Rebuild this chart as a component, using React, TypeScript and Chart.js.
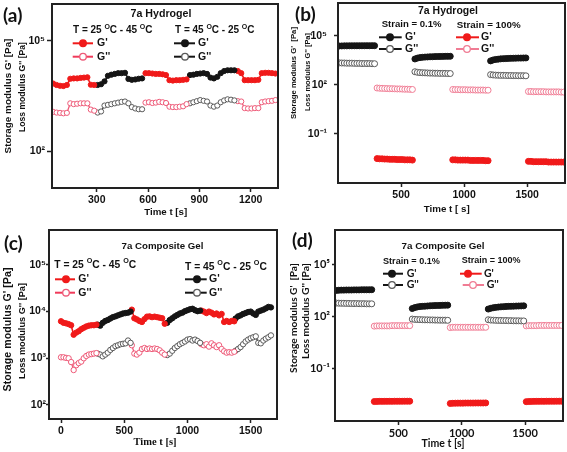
import { useEffect, useRef } from "react";
import { Chart, registerables } from "chart.js";

Chart.register(...registerables);

const FIG_W = 567;
const FIG_H = 452;

// ---------------- (a) 7a Hydrogel : temperature cycling ----------------
const aStep = 20;
const aStarts = [45, 305, 585, 845, 1125]; // red = 25→45 °C, black = 45→25 °C (alternating)
const aGp1 = [6900, 6300, 6000, 5900, 6300, 9300, 9500, 9500, 9800, 10000, 10200, 6400, 6300];
const aGp2 = [6300, 6600, 7900, 11200, 12000, 12600, 13200, 13200, 13500, 9200, 8700, 8900, 9300, 9500];
const aGp3 = [13200, 13200, 12900, 12600, 12600, 12300, 11700, 8500, 8300, 8500, 8500, 8700, 8900];
const aGp4 = [11700, 12000, 12600, 12900, 13200, 12600, 10000, 9500, 10500, 13200, 15100, 15800, 15800, 15800];
const aGp5 = [15100, 13200, 8500, 8500, 8500, 8500, 8700, 13200, 13500, 13500, 13200, 12900];
const aGpp1 = [1170, 1120, 1100, 1070, 1100, 2000, 1900, 1950, 2000, 2000, 2000, 1350, 1260];
const aGpp2 = [1120, 1200, 1740, 1820, 1900, 2000, 2090, 2190, 2240, 2000, 1580, 1450, 1380, 1380];
const aGpp3 = [2090, 2140, 2040, 2090, 2190, 2140, 2040, 1620, 1580, 1580, 1620, 1660, 1900];
const aGpp4 = [2000, 2140, 2290, 2450, 2340, 2240, 1740, 1620, 1740, 2140, 2400, 2570, 2510, 2400];
const aGpp5 = [2290, 2240, 1480, 1450, 1450, 1480, 1480, 2140, 2240, 2290, 2340, 2450];
const aXTicks = [300, 600, 900, 1200];
const aYTicks = [1e2, 1e5];

// ---------------- (b) 7a Hydrogel : strain cycling ----------------
const sStep = 20;
const bStarts = [10, 310, 610, 910, 1210, 1510]; // black = 0.1 %, red = 100 % (alternating)
const bGpLow1 = [23500, 23800, 24000, 24000, 24200, 24200, 24300, 24300, 24400, 24400, 24500, 24500, 24500, 24600, 24600];
const bGppLow1 = [2200, 2150, 2150, 2100, 2100, 2100, 2050, 2050, 2050, 2000, 2000, 2000, 2000, 1950, 1950];
const bGpLow2 = [3800, 4300, 4600, 4800, 4950, 5050, 5150, 5200, 5300, 5350, 5400, 5450, 5500, 5500, 5550];
const bGppLow2 = [630, 580, 560, 550, 540, 530, 520, 520, 510, 510, 500, 500, 500, 490, 490];
const bGpLow3 = [2900, 3300, 3550, 3700, 3850, 3950, 4000, 4100, 4150, 4200, 4250, 4300, 4300, 4350, 4400];
const bGppLow3 = [420, 400, 390, 385, 380, 380, 375, 370, 370, 365, 365, 360, 360, 360, 355];
const bGpHigh1 = [0.0031, 0.003, 0.003, 0.0029, 0.0029, 0.0028, 0.0028, 0.0028, 0.0027, 0.0027, 0.0027, 0.0026, 0.0026, 0.0026, 0.0025];
const bGppHigh1 = [64, 62, 61, 60, 59, 58, 58, 57, 56, 56, 55, 54, 54, 53, 52];
const bGpHigh2 = [0.0026, 0.0026, 0.0025, 0.0025, 0.0025, 0.0025, 0.0025, 0.0024, 0.0024, 0.0024, 0.0024, 0.0024, 0.0024, 0.0023, 0.0023];
const bGppHigh2 = [52, 51, 51, 50, 50, 50, 49, 49, 49, 48, 48, 48, 48, 47, 47];
const bGpHigh3 = [0.0021, 0.0021, 0.002, 0.002, 0.002, 0.002, 0.002, 0.002, 0.0019, 0.0019, 0.0019, 0.0019, 0.0019, 0.0019, 0.0019];
const bGppHigh3 = [39, 39, 38, 38, 38, 38, 38, 37, 37, 37, 37, 37, 37, 36, 36];
const sXTicks = [500, 1000, 1500];
const sYTicks = [1e-1, 1e2, 1e5];

// ---------------- (c) 7a Composite Gel : temperature cycling ----------------
const cStep = 20;
const cStarts = [0, 290, 560, 840, 1110, 1380];
const cGp1 = [6200, 5750, 5600, 5400, 5100, 3200, 3550, 3800, 4200, 4500, 4800, 5000, 5100, 5100, 5250];
const cGp2 = [5250, 5000, 5750, 6300, 6600, 7100, 7600, 7900, 8300, 8700, 9100, 9300, 9500, 10000];
const cGp3 = [11000, 7200, 6800, 6300, 6000, 6900, 7800, 7900, 7600, 7800, 7600, 7400, 7200, 5500];
const cGp4 = [5750, 6600, 7200, 7900, 8500, 9100, 9500, 10200, 10700, 11200, 11500, 10700, 10200, 10500];
const cGp5 = [10500, 10000, 9300, 10000, 9500, 8700, 9100, 8300, 8900, 6000, 6300, 6000, 6300, 6200];
const cGp6 = [7100, 7900, 8300, 8900, 9300, 9800, 10000, 9100, 8500, 10000, 10500, 11000, 11700, 12600, 12300];
const cGpp1 = [1050, 1050, 1020, 1000, 830, 560, 710, 790, 850, 1000, 1120, 1200, 1230, 1260, 1290];
const cGpp2 = [1260, 1200, 1100, 1200, 1320, 1510, 1660, 1820, 1900, 2000, 2040, 2090, 2400, 2140];
const cGpp3 = [1900, 1260, 1200, 1320, 1580, 1660, 1580, 1620, 1580, 1620, 1580, 1480, 1320, 1200];
const cGpp4 = [1170, 1260, 1450, 1660, 1820, 2000, 2140, 2290, 2510, 2570, 2400, 2510, 2340, 2140];
const cGpp5 = [2000, 1900, 2000, 1780, 2090, 1900, 1740, 1900, 1580, 1410, 1320, 1350, 1320, 1380];
const cGpp6 = [1450, 1580, 1740, 2000, 2290, 2510, 2690, 2820, 2950, 2140, 2090, 2400, 2630, 2820, 3090];
const cXTicks = [0, 500, 1000, 1500];
const cYTicks = [1e2, 1e3, 1e4, 1e5];

// ---------------- (d) 7a Composite Gel : strain cycling ----------------
const dStarts = [10, 310, 610, 910, 1210, 1510];
const dGpLow1 = [3300, 3400, 3450, 3450, 3500, 3500, 3500, 3550, 3550, 3550, 3600, 3600, 3600, 3600, 3650];
const dGppLow1 = [620, 610, 600, 600, 590, 590, 580, 580, 580, 570, 570, 570, 560, 560, 560];
const dGpLow2 = [300, 340, 370, 390, 400, 410, 420, 430, 440, 445, 450, 455, 460, 465, 470];
const dGppLow2 = [74, 71, 70, 69, 68, 67, 67, 66, 66, 65, 65, 64, 64, 64, 63];
const dGpLow3 = [280, 310, 335, 350, 365, 375, 385, 395, 400, 405, 410, 415, 420, 425, 430];
const dGppLow3 = [68, 65, 64, 63, 62, 62, 61, 61, 60, 60, 59, 59, 59, 58, 58];
const dGpHigh1 = [0.00132, 0.00134, 0.00135, 0.00135, 0.00135, 0.00136, 0.00136, 0.00136, 0.00137, 0.00137, 0.00137, 0.00137, 0.00138, 0.00138, 0.00138];
const dGppHigh1 = [29, 30, 30, 30, 30, 30, 30, 31, 31, 31, 31, 31, 31, 31, 31];
const dGpHigh2 = [0.00102, 0.00105, 0.00106, 0.00107, 0.00107, 0.00107, 0.00108, 0.00108, 0.00108, 0.00108, 0.00109, 0.00109, 0.00109, 0.00109, 0.0011];
const dGppHigh2 = [24, 25, 25, 25, 25, 25, 25, 25, 25, 25, 25, 25, 25, 25, 25];
const dGpHigh3 = [0.0013, 0.00133, 0.00134, 0.00135, 0.00135, 0.00136, 0.00136, 0.00136, 0.00137, 0.00137, 0.00137, 0.00137, 0.00138, 0.00138, 0.00138];
const dGppHigh3 = [30, 31, 31, 31, 31, 32, 32, 32, 32, 32, 32, 32, 32, 32, 32];

// ---------------- styling ----------------
const RED = "#f01a1a";
const PINK = "#ee5a78";
const PINK2 = "#f07c94";
const BLACK = "#151515";
const GRAY = "#5a5a5a";
const SANS = "'Liberation Sans', Arial, sans-serif";
const SERIF = "'Liberation Serif', 'Times New Roman', serif";
const CAL = "Lato, 'Liberation Sans', sans-serif";

const pts = (t0: number, step: number, vals: number[]) => vals.map((v, i) => ({ x: t0 + i * step, y: v }));

function filledDs(data: any[], color: string, r: number) {
  return {
    data, showLine: true, borderColor: color, borderWidth: 1.6,
    pointRadius: r, pointBackgroundColor: color, pointBorderColor: color, pointBorderWidth: 1,
  };
}
function openDs(data: any[], line: string, mark: string, r: number) {
  return {
    data, showLine: true, borderColor: line, borderWidth: 1.3,
    pointRadius: r, pointBackgroundColor: "#ffffff", pointBorderColor: mark, pointBorderWidth: 1,
  };
}

const SUP: Record<string, string> = { "-": "⁻", "0": "⁰", "1": "¹", "2": "²", "3": "³", "4": "⁴", "5": "⁵", "6": "⁶", "7": "⁷" };
const powLabel = (v: number) => "10" + String(Math.round(Math.log10(v))).split("").map((c) => SUP[c]).join("");

// ---------------- text helpers ----------------
type TOpt = { size: number; family: string; align?: CanvasTextAlign; rot?: number; w?: number };
function T(ctx: CanvasRenderingContext2D, s: string, x: number, y: number, o: TOpt) {
  ctx.save();
  let size = o.size;
  ctx.font = `bold ${size}px ${o.family}`;
  if (o.w) {
    const m = ctx.measureText(s).width;
    size = (size * o.w) / m;
    ctx.font = `bold ${size}px ${o.family}`;
  }
  ctx.translate(x, y);
  if (o.rot) ctx.rotate(o.rot);
  ctx.textAlign = o.align ?? "left";
  ctx.textBaseline = "middle";
  ctx.fillStyle = "#111";
  ctx.fillText(s, 0, 0);
  ctx.restore();
}
function RH(ctx: CanvasRenderingContext2D, parts: [string, boolean][], x: number, y: number, size: number, family: string) {
  ctx.save();
  ctx.fillStyle = "#111";
  ctx.textAlign = "left";
  ctx.textBaseline = "middle";
  let cx = x;
  for (const [s, sup] of parts) {
    const sz = sup ? size * 0.7 : size;
    ctx.font = `bold ${sz}px ${family}`;
    ctx.fillText(s, cx, sup ? y - size * 0.38 : y);
    cx += ctx.measureText(s).width;
  }
  ctx.restore();
}
function LG(ctx: CanvasRenderingContext2D, x1: number, x2: number, mx: number, y: number, line: string, fill: string, stroke: string, label: string, tx: number, font: TOpt) {
  ctx.save();
  ctx.strokeStyle = line;
  ctx.lineWidth = 2;
  ctx.beginPath();
  ctx.moveTo(x1, y);
  ctx.lineTo(x2, y);
  ctx.stroke();
  ctx.beginPath();
  ctx.arc(mx, y, 3.3, 0, Math.PI * 2);
  ctx.fillStyle = fill;
  ctx.fill();
  ctx.lineWidth = 1.3;
  ctx.strokeStyle = stroke;
  ctx.stroke();
  ctx.restore();
  T(ctx, label, tx, y, font);
}
const HEAT: [string, boolean][] = [["T = 25 ", false], ["O", true], ["C - 45 ", false], ["O", true], ["C", false]];
const COOL: [string, boolean][] = [["T = 45 ", false], ["O", true], ["C - 25 ", false], ["O", true], ["C", false]];
const ROT = -Math.PI / 2;

// ---------------- panels ----------------
interface PanelCfg {
  box: [number, number, number, number];
  xMin: number; xMax: number; xTicks: number[];
  yMin: number; yMax: number; yTicks: number[];
  tickFamily: string; tickSize: number;
  yTick: [number, number];
  xTick: [number, number];
  datasets: any[];
  draw: (ctx: CanvasRenderingContext2D) => void;
}

const aSegsGp = [aGp1, aGp2, aGp3, aGp4, aGp5];
const aSegsGpp = [aGpp1, aGpp2, aGpp3, aGpp4, aGpp5];
const panelA: PanelCfg = {
  box: [52, 4, 278, 188],
  xMin: 38, xMax: 1360, xTicks: aXTicks,
  yMin: 10, yMax: 1e6, yTicks: aYTicks,
  tickFamily: SANS, tickSize: 10.5, yTick: [5, 2], xTick: [4, 2],
  datasets: [
    ...aSegsGp.map((v, i) => filledDs(pts(aStarts[i], aStep, v), i % 2 === 0 ? RED : BLACK, 2.6)),
    ...aSegsGpp.map((v, i) => (i % 2 === 0 ? openDs(pts(aStarts[i], aStep, v), PINK, PINK, 2.6) : openDs(pts(aStarts[i], aStep, v), "#333", GRAY, 2.6))),
  ],
  draw: (ctx) => {
    T(ctx, "(a)", 3, 16, { size: 19, family: CAL });
    T(ctx, "7a Hydrogel", 161, 14.5, { size: 10.5, family: SANS, align: "center", w: 61 });
    RH(ctx, HEAT, 73, 30.5, 10, SANS);
    RH(ctx, COOL, 175, 30.5, 10, SANS);
    const f = { size: 10.5, family: SANS };
    LG(ctx, 72.7, 93, 83, 43.3, RED, RED, RED, "G'", 97, f);
    LG(ctx, 72.7, 93, 83, 56.7, "#f03a5a", "#fff", PINK, "G''", 97, f);
    LG(ctx, 174, 195, 185, 43.3, BLACK, BLACK, BLACK, "G'", 198, f);
    LG(ctx, 174, 195, 185, 56.7, BLACK, "#fff", GRAY, "G''", 198, f);
    T(ctx, "Storage modulus G' [Pa]", 8.5, 96, { size: 10, family: SANS, align: "center", rot: ROT, w: 115 });
    T(ctx, "Loss modulus G'' [Pa]", 22.5, 87, { size: 10, family: SANS, align: "center", rot: ROT, w: 90 });
    T(ctx, "Time t [s]", 165.7, 212, { size: 10, family: SANS, align: "center", w: 43 });
  },
};

const strainDatasets = (
  starts: number[],
  low: number[][], lowpp: number[][], high: number[][], highpp: number[][],
) => {
  const ds: any[] = [];
  for (let k = 0; k < 3; k++) {
    ds.push(filledDs(pts(starts[2 * k], sStep, low[k]), BLACK, 3));
    ds.push(openDs(pts(starts[2 * k], sStep, lowpp[k]), "#333", GRAY, 3));
    ds.push(filledDs(pts(starts[2 * k + 1], sStep, high[k]), RED, 3));
    ds.push(openDs(pts(starts[2 * k + 1], sStep, highpp[k]), PINK2, PINK2, 3));
  }
  return ds;
};

const panelB: PanelCfg = {
  box: [338, 3, 565, 183],
  xMin: 0, xMax: 1800, xTicks: sXTicks,
  yMin: 1e-4, yMax: 1e7, yTicks: sYTicks,
  tickFamily: SANS, tickSize: 10.5, yTick: [4, 7], xTick: [4, 2],
  datasets: strainDatasets(
    bStarts,
    [bGpLow1, bGpLow2, bGpLow3], [bGppLow1, bGppLow2, bGppLow3],
    [bGpHigh1, bGpHigh2, bGpHigh3], [bGppHigh1, bGppHigh2, bGppHigh3],
  ),
  draw: (ctx) => {
    T(ctx, "(b)", 295, 15, { size: 19, family: CAL });
    T(ctx, "7a Hydrogel", 448, 11, { size: 10.5, family: SANS, align: "center", w: 60 });
    T(ctx, "Strain = 0.1%", 381.7, 24.5, { size: 10, family: SANS, w: 60 });
    T(ctx, "Strain = 100%", 456.7, 25.5, { size: 10, family: SANS, w: 64 });
    const f = { size: 10.5, family: SANS };
    LG(ctx, 379, 401.7, 390, 37.3, BLACK, BLACK, BLACK, "G'", 405, f);
    LG(ctx, 379, 401.7, 390, 49, BLACK, "#fff", GRAY, "G''", 405, f);
    LG(ctx, 456, 479, 467, 37.3, RED, RED, RED, "G'", 481, f);
    LG(ctx, 456, 479, 467, 49, PINK2, "#fff", PINK2, "G''", 481, f);
    T(ctx, "Storage modulus G'  [Pa]", 293.5, 73, { size: 9, family: SANS, align: "center", rot: ROT, w: 92 });
    T(ctx, "Loss modulus G'' [Pa]", 307.5, 72, { size: 9, family: SANS, align: "center", rot: ROT, w: 78 });
    T(ctx, "Time t [ s]", 446.7, 209.3, { size: 10, family: SANS, align: "center", w: 46 });
  },
};

const cSegsGp = [cGp1, cGp2, cGp3, cGp4, cGp5, cGp6];
const cSegsGpp = [cGpp1, cGpp2, cGpp3, cGpp4, cGpp5, cGpp6];
const panelC: PanelCfg = {
  box: [49, 230, 277, 419],
  xMin: -95, xMax: 1708, xTicks: cXTicks,
  yMin: 50, yMax: 5.6e5, yTicks: cYTicks,
  tickFamily: SANS, tickSize: 10.5, yTick: [3, 0], xTick: [4, 2],
  datasets: [
    ...cSegsGp.map((v, i) => filledDs(pts(cStarts[i], cStep, v), i % 2 === 0 ? RED : BLACK, 2.7)),
    ...cSegsGpp.map((v, i) => (i % 2 === 0 ? openDs(pts(cStarts[i], cStep, v), PINK, PINK, 2.7) : openDs(pts(cStarts[i], cStep, v), "#333", GRAY, 2.7))),
  ],
  draw: (ctx) => {
    T(ctx, "(c)", 4, 244, { size: 19, family: CAL });
    T(ctx, "7a Composite Gel", 162.5, 246, { size: 10, family: SANS, align: "center", w: 82 });
    RH(ctx, HEAT, 54.3, 265.3, 10.3, SANS);
    RH(ctx, COOL, 185, 266.7, 10.3, SANS);
    const f = { size: 10.5, family: SANS };
    LG(ctx, 55, 75, 66, 279.3, RED, RED, RED, "G'", 78.3, f);
    LG(ctx, 55, 75, 66, 292.7, "#f03a5a", "#fff", PINK, "G''", 78.3, f);
    LG(ctx, 185, 206.7, 197, 279.3, BLACK, BLACK, BLACK, "G'", 209, f);
    LG(ctx, 185, 206.7, 197, 292.7, BLACK, "#fff", GRAY, "G''", 209, f);
    T(ctx, "Storage modulus G' [Pa]", 8.3, 329.5, { size: 10.5, family: SANS, align: "center", rot: ROT, w: 124 });
    T(ctx, "Loss modulus G'' [Pa]", 22.7, 331, { size: 10.5, family: SANS, align: "center", rot: ROT, w: 96 });
    T(ctx, "Time t [s]", 155, 442, { size: 10.5, family: SERIF, align: "center", w: 43 });
  },
};

const panelD: PanelCfg = {
  box: [335, 230, 563, 421],
  xMin: 0, xMax: 1800, xTicks: sXTicks,
  yMin: 1e-4, yMax: 1e7, yTicks: sYTicks,
  tickFamily: CAL, tickSize: 11, yTick: [3, 2], xTick: [4, 2],
  datasets: strainDatasets(
    dStarts,
    [dGpLow1, dGpLow2, dGpLow3], [dGppLow1, dGppLow2, dGppLow3],
    [dGpHigh1, dGpHigh2, dGpHigh3], [dGppHigh1, dGppHigh2, dGppHigh3],
  ),
  draw: (ctx) => {
    T(ctx, "(d)", 292, 241, { size: 19, family: CAL });
    T(ctx, "7a Composite Gel", 443, 246, { size: 10, family: SANS, align: "center", w: 83 });
    T(ctx, "Strain = 0.1%", 383, 261, { size: 10, family: SANS, w: 57 });
    T(ctx, "Strain = 100%", 461.7, 261, { size: 10, family: SANS, w: 59 });
    const f = { size: 10.5, family: CAL };
    LG(ctx, 383, 403, 392, 273.7, BLACK, BLACK, BLACK, "G'", 406.7, f);
    LG(ctx, 383, 403, 392, 285, BLACK, "#fff", GRAY, "G''", 406.7, f);
    LG(ctx, 460, 481.7, 468, 273.7, RED, RED, RED, "G'", 484, f);
    LG(ctx, 462.7, 484, 473, 285, PINK2, "#fff", PINK2, "G''", 486.7, f);
    T(ctx, "Storage modulus G'  [Pa]", 293.3, 318, { size: 10, family: CAL, align: "center", rot: ROT, w: 110 });
    T(ctx, "Loss modulus G'' [Pa]", 306, 311, { size: 10, family: CAL, align: "center", rot: ROT, w: 96 });
    T(ctx, "Time t [s]", 443, 444, { size: 11, family: CAL, align: "center", w: 43 });
  },
};

const PANELS = [panelA, panelB, panelC, panelD];
const YW = 44;
const XH = 30;

function Panel({ cfg }: { cfg: PanelCfg }) {
  const ref = useRef<HTMLCanvasElement>(null);
  useEffect(() => {
    const [l, t, r, b] = cfg.box;
    const tickFont = { family: cfg.tickFamily, size: cfg.tickSize, weight: "bold" as const };
    const deco = {
      id: "deco",
      afterDraw(chart: any) {
        const { ctx, chartArea: a } = chart;
        ctx.save();
        ctx.strokeStyle = "#222";
        ctx.lineWidth = 2;
        ctx.strokeRect(a.left, a.top, a.right - a.left, a.bottom - a.top);
        ctx.restore();
        cfg.draw(ctx);
      },
    };
    const chart = new Chart(ref.current!, {
      type: "scatter",
      data: { datasets: cfg.datasets },
      options: {
        responsive: false,
        animation: false,
        devicePixelRatio: 1,
        events: [],
        layout: { autoPadding: false, padding: { left: l - YW, top: t, right: FIG_W - r, bottom: FIG_H - b - XH } },
        plugins: { legend: { display: false }, tooltip: { enabled: false } },
        scales: {
          x: {
            type: "linear", position: "bottom", min: cfg.xMin, max: cfg.xMax, bounds: "data",
            afterBuildTicks: (s: any) => { s.ticks = cfg.xTicks.map((v) => ({ value: v })); },
            afterFit: (s: any) => { s.height = XH; s.paddingLeft = 0; s.paddingRight = 0; },
            ticks: { autoSkip: false, maxRotation: 0, padding: cfg.xTick[1], color: "#111", font: tickFont, callback: (v: any) => String(v) },
            grid: { drawOnChartArea: false, drawTicks: true, tickLength: cfg.xTick[0], tickWidth: 1.5, tickColor: "#222" },
            border: { display: true, color: "#222", width: 2 },
          },
          y: {
            type: "logarithmic", position: "left", min: cfg.yMin, max: cfg.yMax, bounds: "data",
            afterBuildTicks: (s: any) => { s.ticks = cfg.yTicks.map((v) => ({ value: v })); },
            afterFit: (s: any) => { s.width = YW; s.paddingTop = 0; s.paddingBottom = 0; },
            ticks: { autoSkip: false, padding: cfg.yTick[1], color: "#111", font: tickFont, callback: (v: any) => powLabel(Number(v)) },
            grid: { drawOnChartArea: false, drawTicks: true, tickLength: cfg.yTick[0], tickWidth: 1.5, tickColor: "#222" },
            border: { display: true, color: "#222", width: 2 },
          },
        },
      } as any,
      plugins: [deco],
    });
    return () => chart.destroy();
  }, [cfg]);
  return (
    <canvas
      ref={ref}
      width={FIG_W}
      height={FIG_H}
      style={{ position: "absolute", left: 0, top: 0, width: FIG_W, height: FIG_H }}
    />
  );
}

export default function App() {
  return (
    <div style={{ position: "fixed", left: 0, top: 0, width: FIG_W, height: FIG_H, background: "#fff", overflow: "hidden" }}>
      {PANELS.map((p, i) => (
        <Panel key={i} cfg={p} />
      ))}
    </div>
  );
}
